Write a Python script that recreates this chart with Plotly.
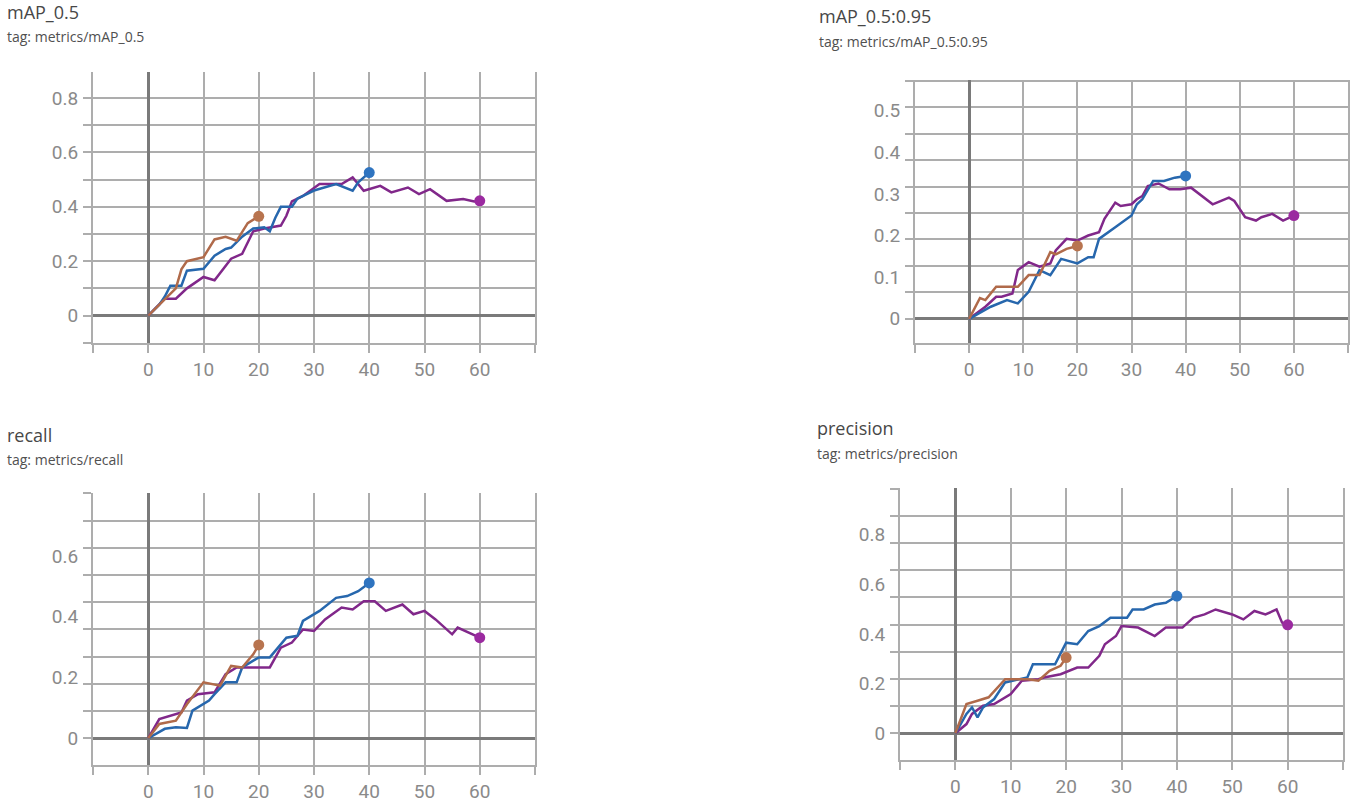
import plotly.graph_objects as go

W, H = 1355, 803

# ---------------- data (steps / values) ----------------
x_tick_vals = [-10, 0, 10, 20, 30, 40, 50, 60, 70]
x_tick_text = ["", "0", "10", "20", "30", "40", "50", "60", ""]

# mAP_0.5
map50_yticks = [0, 0.2, 0.4, 0.6, 0.8]
map50_ytext = ["0", "0.2", "0.4", "0.6", "0.8"]
map50_orange_steps = [0, 3, 5, 6, 7, 10, 12, 14, 16, 18, 20]
map50_orange_vals = [0.0, 0.06, 0.10, 0.17, 0.20, 0.215, 0.28, 0.29, 0.275, 0.34, 0.365]
map50_blue_steps = [0, 2, 3, 4, 6, 7, 10, 12, 14, 15, 17, 19, 21, 22, 23, 24, 26, 27, 30, 34, 37, 38, 40]
map50_blue_vals = [0.0, 0.04, 0.07, 0.11, 0.11, 0.165, 0.172, 0.22, 0.245, 0.25, 0.29, 0.32, 0.325, 0.31,
                   0.36, 0.40, 0.40, 0.43, 0.46, 0.484, 0.459, 0.49, 0.526]
map50_purple_steps = [0, 3, 5, 7, 10, 12, 15, 17, 19, 21, 24, 25, 26, 28, 31, 35, 37, 39, 42, 44, 47, 49,
                      51, 54, 57, 59, 60]
map50_purple_vals = [0.0, 0.062, 0.062, 0.10, 0.142, 0.13, 0.209, 0.227, 0.31, 0.32, 0.331, 0.367, 0.42,
                     0.44, 0.484, 0.484, 0.508, 0.459, 0.477, 0.453, 0.471, 0.447, 0.465, 0.422, 0.429,
                     0.42, 0.422]

# mAP_0.5:0.95
map5095_yticks = [0, 0.1, 0.2, 0.3, 0.4, 0.5]
map5095_ytext = ["0", "0.1", "0.2", "0.3", "0.4", "0.5"]
map5095_orange_steps = [0, 2, 3, 5, 9, 11, 13, 15, 16, 18, 20]
map5095_orange_vals = [0.0, 0.05, 0.045, 0.077, 0.077, 0.105, 0.105, 0.16, 0.155, 0.168, 0.175]
map5095_blue_steps = [0, 2, 4, 7, 9, 11, 13, 15, 17, 20, 22, 23, 24, 27, 30, 31, 32, 34, 36, 38, 40]
map5095_blue_vals = [0.0, 0.015, 0.029, 0.045, 0.037, 0.065, 0.117, 0.105, 0.144, 0.133, 0.148, 0.148,
                     0.192, 0.22, 0.248, 0.275, 0.287, 0.331, 0.331, 0.339, 0.343]
map5095_purple_steps = [0, 3, 5, 6, 8, 9, 11, 13, 15, 16, 18, 20, 22, 24, 25, 27, 28, 30, 31, 32, 33, 35,
                        37, 39, 41, 43, 45, 48, 49, 51, 53, 54, 56, 58, 60]
map5095_purple_vals = [0.0, 0.029, 0.053, 0.053, 0.061, 0.117, 0.136, 0.125, 0.133, 0.164, 0.192, 0.188,
                       0.2, 0.208, 0.24, 0.279, 0.271, 0.275, 0.287, 0.295, 0.319, 0.325, 0.311, 0.311,
                       0.315, 0.295, 0.275, 0.291, 0.283, 0.244, 0.236, 0.244, 0.252, 0.236, 0.248]

# recall
recall_yticks = [0, 0.2, 0.4, 0.6]
recall_ytext = ["0", "0.2", "0.4", "0.6"]
recall_orange_steps = [0, 2, 5, 7, 10, 13, 15, 17, 19, 20]
recall_orange_vals = [0.0, 0.047, 0.058, 0.112, 0.184, 0.173, 0.238, 0.233, 0.276, 0.307]
recall_blue_steps = [0, 3, 5, 7, 8, 11, 12, 14, 16, 17, 20, 22, 25, 27, 28, 31, 34, 36, 38, 40]
recall_blue_vals = [0.0, 0.031, 0.036, 0.034, 0.091, 0.124, 0.145, 0.184, 0.184, 0.233, 0.266, 0.266,
                    0.331, 0.337, 0.386, 0.419, 0.462, 0.468, 0.484, 0.511]
recall_purple_steps = [0, 2, 6, 7, 9, 12, 14, 16, 22, 24, 26, 28, 30, 32, 35, 37, 39, 41, 43, 46, 48, 50,
                       52, 53, 55, 56, 58, 60]
recall_purple_vals = [0.0, 0.063, 0.085, 0.124, 0.145, 0.151, 0.211, 0.233, 0.233, 0.298, 0.315, 0.358,
                      0.353, 0.391, 0.43, 0.424, 0.451, 0.451, 0.419, 0.44, 0.408, 0.419, 0.391, 0.375,
                      0.342, 0.364, 0.348, 0.331]

# precision
precision_yticks = [0, 0.2, 0.4, 0.6, 0.8]
precision_ytext = ["0", "0.2", "0.4", "0.6", "0.8"]
precision_orange_steps = [0, 2, 4, 6, 9, 11, 13, 15, 17, 19, 20]
precision_orange_vals = [0.0, 0.118, 0.131, 0.145, 0.218, 0.218, 0.218, 0.212, 0.252, 0.272, 0.305]
precision_blue_steps = [0, 2, 3, 4, 5, 7, 9, 13, 14, 18, 20, 22, 24, 26, 28, 31, 32, 34, 36, 38, 40]
precision_blue_vals = [0.0, 0.078, 0.104, 0.064, 0.104, 0.138, 0.205, 0.225, 0.278, 0.278, 0.365, 0.359,
                       0.412, 0.432, 0.466, 0.466, 0.499, 0.499, 0.519, 0.526, 0.553]
precision_purple_steps = [0, 2, 3, 5, 7, 8, 10, 12, 15, 16, 19, 22, 24, 26, 27, 29, 30, 33, 36, 38, 41,
                          43, 45, 47, 50, 52, 54, 56, 58, 59, 60]
precision_purple_vals = [0.0, 0.037, 0.078, 0.111, 0.118, 0.131, 0.158, 0.212, 0.218, 0.225, 0.238,
                         0.265, 0.265, 0.312, 0.359, 0.392, 0.432, 0.426, 0.392, 0.426, 0.426, 0.466,
                         0.479, 0.499, 0.479, 0.459, 0.493, 0.479, 0.499, 0.446, 0.437]

# ---------------- styling ----------------
LINE = {"purple": "#81288a", "blue": "#2767ad", "orange": "#b06a4a"}
DOT = {"purple": "#9b2aa0", "blue": "#2f74c0", "orange": "#b8744f"}
GRID = "#adadad"
ZERO = "#7a7a7a"
TICKFONT = dict(family="Roboto", size=19, color="#8a8a8a")

# title block: (left x, bottom of title box, top of tag box) in pixels
panels = [
    dict(title="mAP_0.5", tag="tag: metrics/mAP_0.5", box=(93, 535, 72, 344),
         yrange=[-0.1, 0.897], gstep=0.1, major_grid=True,
         yticks=map50_yticks, ytext=map50_ytext, tpos=(6, 25, 26),
         series=[("purple", map50_purple_steps, map50_purple_vals),
                 ("blue", map50_blue_steps, map50_blue_vals),
                 ("orange", map50_orange_steps, map50_orange_vals)]),
    dict(title="mAP_0.5:0.95", tag="tag: metrics/mAP_0.5:0.95", box=(915, 1348, 80, 344),
         yrange=[-0.0574, 0.5742], gstep=0.0635, major_grid=False,
         yticks=map5095_yticks, ytext=map5095_ytext, tpos=(818, 29, 31),
         series=[("purple", map5095_purple_steps, map5095_purple_vals),
                 ("blue", map5095_blue_steps, map5095_blue_vals),
                 ("orange", map5095_orange_steps, map5095_orange_vals)]),
    dict(title="recall", tag="tag: metrics/recall", box=(93, 535, 495, 768),
         yrange=[-0.0885, 0.8066], gstep=0.0895, major_grid=False,
         yticks=recall_yticks, ytext=recall_ytext, tpos=(6, 450, 451),
         series=[("purple", recall_purple_steps, recall_purple_vals),
                 ("blue", recall_blue_steps, recall_blue_vals),
                 ("orange", recall_orange_steps, recall_orange_vals)]),
    dict(title="precision", tag="tag: metrics/precision", box=(900, 1343, 490, 763),
         yrange=[-0.1084, 0.988], gstep=0.1096, major_grid=False,
         yticks=precision_yticks, ytext=precision_ytext, tpos=(816, 443, 445),
         series=[("purple", precision_purple_steps, precision_purple_vals),
                 ("blue", precision_blue_steps, precision_blue_vals),
                 ("orange", precision_orange_steps, precision_orange_vals)]),
]

fig = go.Figure()
layout = dict(width=W, height=H, margin=dict(l=0, r=0, t=0, b=0),
              paper_bgcolor="white", plot_bgcolor="white", showlegend=False)
annotations = []

for i, p in enumerate(panels, start=1):
    xa = "xaxis" if i == 1 else f"xaxis{i}"
    ya = "yaxis" if i == 1 else f"yaxis{i}"
    xr = "x" if i == 1 else f"x{i}"
    yr = "y" if i == 1 else f"y{i}"
    l, r, t, b = p["box"]
    layout[xa] = dict(
        domain=[l / W, r / W], anchor=yr, range=[-10, 70],
        tickmode="array", tickvals=x_tick_vals, ticktext=x_tick_text,
        showgrid=True, gridcolor=GRID, gridwidth=2,
        ticks="outside", ticklen=8, tickwidth=2, tickcolor=GRID,
        showline=True, linecolor=GRID, linewidth=2,
        zeroline=True, zerolinecolor=ZERO, zerolinewidth=3,
        tickfont=TICKFONT, ticklabelstandoff=0, fixedrange=True,
    )
    layout[ya] = dict(
        domain=[1 - b / H, 1 - t / H], anchor=xr, range=p["yrange"],
        tickmode="array", tickvals=p["yticks"], ticktext=p["ytext"],
        showgrid=p["major_grid"], gridcolor=GRID, gridwidth=2,
        ticks="outside", ticklen=8, tickwidth=2,
        tickcolor=GRID if p["major_grid"] else "rgba(0,0,0,0)",
        minor=dict(tick0=0, dtick=p["gstep"], showgrid=True, gridcolor=GRID, gridwidth=2,
                   ticks="outside", ticklen=8, tickwidth=2, tickcolor=GRID),
        showline=True, mirror=True, linecolor=GRID, linewidth=2,
        zeroline=True, zerolinecolor=ZERO, zerolinewidth=3,
        tickfont=TICKFONT, ticklabelstandoff=1, fixedrange=True,
    )
    for color, steps, vals in p["series"]:
        fig.add_trace(go.Scatter(x=steps, y=vals, mode="lines", xaxis=xr, yaxis=yr,
                                 line=dict(color=LINE[color], width=2.5), hoverinfo="skip"))
        fig.add_trace(go.Scatter(x=[steps[-1]], y=[vals[-1]], mode="markers", xaxis=xr, yaxis=yr,
                                 marker=dict(color=DOT[color], size=11), hoverinfo="skip"))
    tx, tb, tt = p["tpos"]
    annotations.append(dict(text=p["title"], x=tx / W, y=1 - tb / H, xref="paper", yref="paper",
                            xanchor="left", yanchor="bottom", showarrow=False, borderpad=0,
                            font=dict(family="Open Sans", size=18, color="#474747")))
    annotations.append(dict(text=p["tag"], x=tx / W, y=1 - tt / H, xref="paper", yref="paper",
                            xanchor="left", yanchor="top", showarrow=False, borderpad=0,
                            font=dict(family="Open Sans", size=14, color="#505050")))

layout["annotations"] = annotations
fig.update_layout(**layout)
fig.write_html("out.html")
